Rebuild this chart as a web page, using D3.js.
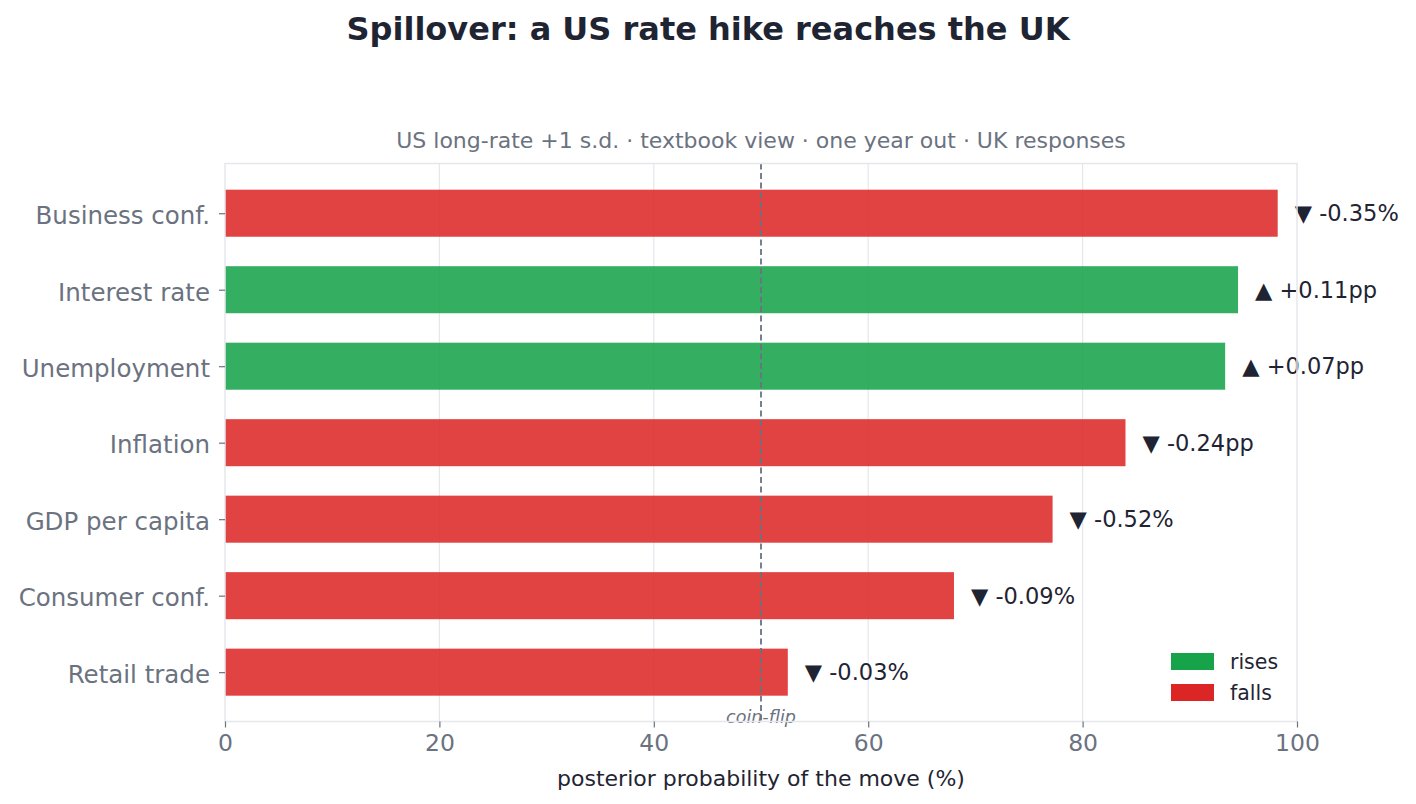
<!DOCTYPE html>
<html>
<head>
<meta charset="utf-8">
<script src="https://cdn.jsdelivr.net/npm/d3@7"></script>
<style>
  body { margin: 0; background: #fff; }
  text { font-family: "DejaVu Sans", sans-serif; }
</style>
</head>
<body>
<div id="chart"></div>
<script>
// data, top to bottom
var categories = ["Business conf.", "Interest rate", "Unemployment", "Inflation", "GDP per capita", "Consumer conf.", "Retail trade"];
var probs = [98.2, 94.5, 93.3, 84.0, 77.2, 68.0, 52.5];
var direction = ["falls", "rises", "rises", "falls", "falls", "falls", "falls"];
var effects = ["-0.35%", "+0.11pp", "+0.07pp", "-0.24pp", "-0.52%", "-0.09%", "-0.03%"];
var xTicks = [0, 20, 40, 60, 80, 100];

var colors = { rises: "#16a34a", falls: "#dc2626" };

var W = 1416, H = 804;
var margin = {top: 163.5, right: 119, bottom: 82.5, left: 225};
var width = W - margin.left - margin.right,
    height = H - margin.top - margin.bottom;

var svg = d3.select("#chart").append("svg")
    .attr("width", W).attr("height", H);

var g = svg.append("g")
    .attr("transform", "translate(" + margin.left + "," + margin.top + ")");

var x = d3.scaleLinear().domain([0, 100]).range([0, width]);
var y = d3.scaleLinear().domain([-0.65, categories.length - 1 + 0.645]).range([0, height]);
var step = y(1) - y(0);
var barH = step * 0.615;

// grid
g.selectAll(".grid").data(xTicks.slice(1, -1)).enter().append("line")
    .attr("x1", function(d) { return x(d); }).attr("x2", function(d) { return x(d); })
    .attr("y1", 0).attr("y2", height)
    .attr("stroke", "#e5e7eb").attr("stroke-width", 1.2);

// bars
g.selectAll("rect.bar").data(probs).enter().append("rect")
    .attr("class", "bar")
    .attr("x", x(0))
    .attr("y", function(d, i) { return y(i) - barH / 2; })
    .attr("width", function(d) { return x(d) - x(0); })
    .attr("height", barH)
    .attr("fill", function(d, i) { return colors[direction[i]]; })
    .attr("fill-opacity", 0.87);

// value labels
g.selectAll("text.val").data(probs).enter().append("text")
    .attr("class", "val")
    .attr("x", function(d) { return x(d) + 17; })
    .attr("y", function(d, i) { return y(i); })
    .attr("dy", "0.35em")
    .attr("font-size", "22.5px")
    .attr("fill", "#1f2433")
    .text(function(d, i) { return (direction[i] === "rises" ? "\u25B2 " : "\u25BC ") + effects[i]; });

// coin-flip line
g.append("line")
    .attr("x1", x(50)).attr("x2", x(50))
    .attr("y1", 0).attr("y2", height)
    .attr("stroke", "#6b7280").attr("stroke-width", 1.8)
    .attr("stroke-dasharray", "6,3.5");
g.append("text")
    .attr("x", x(50)).attr("y", height + 1)
    .attr("text-anchor", "middle")
    .attr("font-size", "17.5px").attr("font-style", "italic")
    .attr("fill", "#6b7280")
    .text("coin-flip");

// frame
g.append("rect")
    .attr("x", 0).attr("y", 0).attr("width", width).attr("height", height)
    .attr("fill", "none").attr("stroke", "#e5e7eb").attr("stroke-width", 1.5);

// x axis
var xAxis = g.append("g")
    .attr("transform", "translate(0," + height + ")")
    .call(d3.axisBottom(x).tickValues(xTicks).tickSize(6).tickPadding(7));
xAxis.select(".domain").remove();
xAxis.selectAll("line").attr("stroke", "#6b7280").attr("stroke-width", 1.2);
xAxis.selectAll("text").attr("font-size", "23.5px").attr("fill", "#6b7280")
    .attr("font-family", "DejaVu Sans, sans-serif");

// y axis
var yAxis = g.append("g")
    .call(d3.axisLeft(y).tickValues(d3.range(categories.length))
        .tickFormat(function(i) { return categories[i]; })
        .tickSize(6).tickPadding(9));
yAxis.select(".domain").remove();
yAxis.selectAll("line").attr("stroke", "#6b7280").attr("stroke-width", 1.2);
yAxis.selectAll("text").attr("font-size", "24.5px").attr("fill", "#6b7280")
    .attr("font-family", "DejaVu Sans, sans-serif")
    .attr("dy", "0.42em");

// legend
var legend = g.append("g").attr("transform", "translate(" + (x(100) - 126) + "," + (height - 68.5) + ")");
["rises", "falls"].forEach(function(k, i) {
    legend.append("rect")
        .attr("x", 0).attr("y", i * 31)
        .attr("width", 43).attr("height", 17)
        .attr("fill", colors[k]);
    legend.append("text")
        .attr("x", 59).attr("y", i * 31 + 9)
        .attr("dy", "0.35em")
        .attr("font-size", "20.5px").attr("fill", "#1f2433")
        .text(k);
});

// titles
svg.append("text")
    .attr("x", W / 2).attr("y", 40)
    .attr("text-anchor", "middle")
    .attr("font-size", "32px").attr("font-weight", "bold")
    .attr("fill", "#1f2433")
    .text("Spillover: a US rate hike reaches the UK");

svg.append("text")
    .attr("x", margin.left + width / 2).attr("y", 148)
    .attr("text-anchor", "middle")
    .attr("font-size", "22px").attr("fill", "#6b7280")
    .text("US long-rate +1 s.d. \u00b7 textbook view \u00b7 one year out \u00b7 UK responses");

svg.append("text")
    .attr("x", margin.left + width / 2).attr("y", 786)
    .attr("text-anchor", "middle")
    .attr("font-size", "22px").attr("fill", "#1f2433")
    .text("posterior probability of the move (%)");
</script>
</body>
</html>
